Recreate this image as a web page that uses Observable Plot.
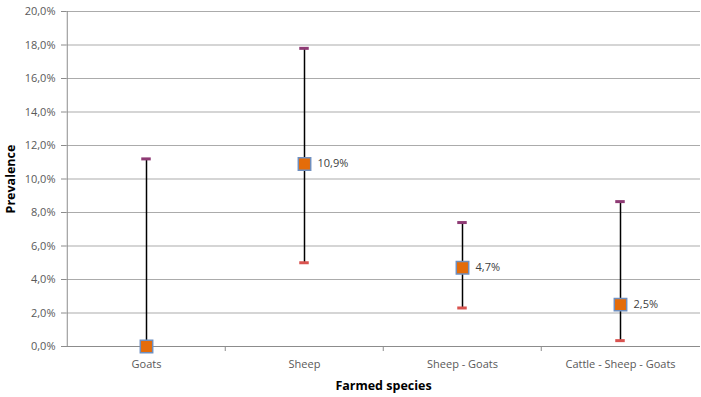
<!DOCTYPE html>
<html>
<head>
<meta charset="utf-8">
<script src="https://cdn.jsdelivr.net/npm/d3@7"></script>
<script src="https://cdn.jsdelivr.net/npm/@observablehq/plot@0.6"></script>
<style>
  body { margin: 0; background: #fff; }
  svg { font-family: "Open Sans", "Liberation Sans", sans-serif; }
  g[aria-label="y-axis label"] text, g[aria-label="x-axis label"] text { font-weight: bold; fill: #000; font-size: 12.5px; }
</style>
</head>
<body>
<div id="chart"></div>
<script>
const categories = ["Goats", "Sheep", "Sheep - Goats", "Cattle - Sheep - Goats"];
const prevalence = [0.0, 10.9, 4.7, 2.5];
const lower = [0.0, 5.0, 2.3, 0.35];
const upper = [11.2, 17.8, 7.4, 8.65];
const pointLabels = ["", "10,9%", "4,7%", "2,5%"];
const yTicks = [0, 2, 4, 6, 8, 10, 12, 14, 16, 18, 20];

const data = categories.map((c, i) => ({
  cat: c, p: prevalence[i], lo: lower[i], hi: upper[i], label: pointLabels[i]
}));

const fmt = d => d.toFixed(1).replace(".", ",") + "%";
const W = 701, ML = 66, MR = 1;
const bw = (W - ML - MR) / categories.length;

const chart = Plot.plot({
  width: W,
  height: 397,
  marginLeft: ML,
  marginRight: MR,
  marginTop: 11,
  marginBottom: 51,
  style: { fontSize: "11px", color: "#595959", background: "#fff" },
  x: { domain: categories, padding: 0 },
  y: { domain: [0, 20] },
  marks: [
    Plot.gridY(yTicks, { stroke: "#ababab", strokeOpacity: 1 }),
    Plot.axisY(yTicks, {
      tickFormat: fmt, tickSize: 5, tickPadding: 6, stroke: "#8c8c8c",
      label: "Prevalence", labelAnchor: "center", labelArrow: "none", labelOffset: 60
    }),
    Plot.axisX({
      tickSize: 0, tickPadding: 14,
      label: "Farmed species", labelAnchor: "center", labelArrow: "none", labelOffset: 43
    }),
    Plot.ruleY([0], { stroke: "#8c8c8c" }),
    Plot.ruleX([categories[0]], { x: d => d, dx: -bw / 2, stroke: "#8c8c8c" }),
    Plot.ruleX(categories.slice(1), { x: d => d, y1: 0, y2: 0, insetBottom: -5, dx: -bw / 2, stroke: "#8c8c8c" }),
    Plot.ruleX(data, { x: "cat", y1: "lo", y2: "hi", stroke: "#000", strokeWidth: 1.5 }),
    Plot.tickY(data, { x: "cat", y: "hi", stroke: "#8e3a74", strokeWidth: 3, inset: (bw - 10) / 2 }),
    Plot.tickY(data, { x: "cat", y: "lo", stroke: "#d9534f", strokeWidth: 3, inset: (bw - 10) / 2 }),
    Plot.dot(data, { x: "cat", y: "p", symbol: "square", r: 7, fill: "#e46c0a", stroke: "#6f8fbf", strokeWidth: 1.5 }),
    Plot.text(data, { x: "cat", y: "p", text: "label", dx: 13, textAnchor: "start", fill: "#404040", fontSize: 11 })
  ]
});
document.getElementById("chart").appendChild(chart);
</script>
</body>
</html>
